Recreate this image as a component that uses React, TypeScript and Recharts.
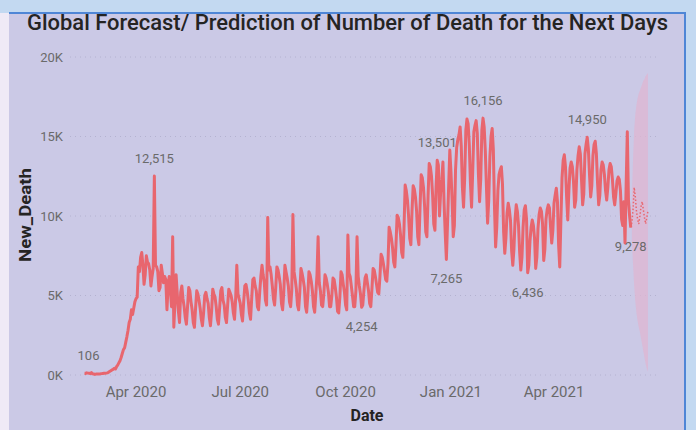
import React from "react";
import { ComposedChart, Line, Area, XAxis, YAxis, CartesianGrid } from "recharts";

// ---------------------------------------------------------------------------
// Data (daily, day 0 = 16 Feb 2020)
// ---------------------------------------------------------------------------

const startDate = Date.UTC(2020, 1, 16);

const feb2020 = [106, 98, 136, 118, 109, 97, 150, 71, 64, 38, 57, 64, 58, 67];
const mar2020 = [
  73, 86, 98, 109, 104, 120, 135, 175, 230, 270, 320, 350, 420, 380, 520, 620,
  760, 900, 1100, 1350, 1600, 1700, 2050, 2400, 2800, 3300, 3500, 4100, 3800,
  4200, 4600,
];
const apr2020 = [
  4800, 4900, 6800, 6500, 7400, 7700, 6900, 5700, 6300, 7500, 7100, 7000, 6600,
  5600, 6200, 6700, 12515, 6900, 6800, 6500, 5300, 5500, 6900, 6400, 5800, 6200,
  6000, 4100, 5600, 6200,
];
const may2020 = [
  5300, 4300, 8700, 3000, 4600, 6300, 5100, 4000, 3300, 5200, 5600, 4800, 4300,
  3600, 3200, 4300, 5500, 5300, 4600, 4100, 3300, 3000, 4200, 5300, 5100, 4700,
  4200, 3500, 3100, 3900, 5000,
];
const jun2020 = [
  5200, 4800, 4500, 3600, 3100, 4000, 5400, 5100, 4900, 4300, 3500, 3200, 4200,
  5300, 5500, 4700, 4400, 3600, 3300, 4400, 5400, 5200, 5000, 4600, 3900, 3500,
  4800, 6900, 5100, 4800,
];
const jul2020 = [
  4500, 3800, 3400, 4600, 5600, 5700, 5300, 4700, 3900, 3500, 4800, 6000, 6100,
  5600, 5300, 4300, 4100, 5200, 6200, 6900, 6300, 5800, 4700, 4400, 9900, 6600,
  6800, 6300, 5600, 4800, 4400,
];
const aug2020 = [
  5500, 6800, 6600, 6200, 5700, 4500, 4100, 5200, 6900, 6500, 6100, 5600, 4600,
  4300, 5300, 10100, 6500, 6000, 5400, 4400, 4100, 5200, 6700, 6400, 6000, 5500,
  4300, 3950, 5000, 6500, 6300,
];
const sep2020 = [
  5900, 5300, 4300, 3950, 5100, 6300, 8700, 5800, 5300, 4400, 4300, 5100, 6300,
  6100, 5700, 5200, 4300, 4300, 5000, 6100, 6000, 5500, 4900, 4000, 3900, 4900,
  6500, 6300, 5700, 5200,
];
const oct2020 = [
  4400, 4100, 8800, 6400, 6200, 5600, 5000, 4300, 4300, 5300, 8700, 6200, 5600,
  5100, 4254, 4400, 5300, 6100, 6300, 5800, 5300, 4500, 4300, 5400, 6700, 6600,
  6200, 5700, 5200, 5100, 6200,
];
const nov2020 = [
  7600, 7400, 7000, 6500, 6000, 5900, 7000, 9300, 9000, 8600, 8000, 7100, 6800,
  8200, 10050, 9900, 9500, 8800, 7700, 7400, 9200, 11950, 11600, 11000, 10000,
  8600, 8200, 10300, 11900, 11700,
];
const dec2020 = [
  11200, 10300, 8700, 8200, 10500, 12600, 12400, 11800, 10600, 9000, 8700,
  11200, 13300, 13100, 12500, 11300, 9500, 9100, 11800, 13501, 13200, 10000,
  11500, 12300, 13400, 10800, 8900, 7265, 9500, 11900, 14150,
];
const jan2021 = [
  12800, 11000, 8700, 9400, 12900, 14300, 14800, 15100, 15600, 14400, 11800,
  10550, 12400, 15400, 16100, 15800, 14500, 12100, 10550, 12800, 15300, 15700,
  16000, 15200, 12600, 10900, 12300, 15400, 16156, 15600, 14100,
];
const feb2021 = [
  11800, 9550, 11000, 13700, 15000, 15500, 14200, 10600, 8050, 9300, 11600,
  12600, 12900, 13100, 12000, 9000, 7650, 8600, 10200, 10800, 10400, 9700, 7800,
  6900, 7900, 9800, 10700, 10300,
];
const mar2021 = [
  9400, 7700, 6600, 7400, 9300, 10400, 10650, 9800, 6436, 6900, 8400, 9300,
  9750, 9400, 8600, 6700, 7400, 9200, 10100, 10500, 10300, 9500, 7200, 7900,
  9800, 10400, 10700, 10500, 9300, 8300, 9100,
];
const apr2021 = [
  10800, 11300, 11750, 10900, 8200, 6800, 9700, 12400, 13500, 13850, 13100,
  11200, 9750, 11600, 13000, 13400, 13100, 12200, 10550, 11000, 12900, 13800,
  14350, 13900, 12300, 10700, 11400, 13900, 14500, 14950,
];
const may2021 = [
  14200, 12600, 11200, 11900, 13800, 14500, 14700, 13900, 12100, 10700, 11300,
  12900, 13400, 13200, 12600, 11600, 11000, 11800, 12900, 13300, 13100, 12300,
  11200, 10700, 11400, 12200, 12450, 12300, 11600, 9800, 9400,
];
const jun2021 = [10900, 8300, 12000, 15300, 11000, 10000, 9278];

// forecast for the next 15 days
const forecastMid = [
  9600, 10400, 11800, 11200, 10300, 9800, 9500, 10000, 10600, 10900, 10400,
  9900, 9500, 9900, 10300,
];
const forecastLow = [
  8400, 7000, 5600, 4600, 3900, 3400, 3000, 2700, 2300, 1900, 1500, 1100, 700,
  400, 200,
];
const forecastHigh = [
  11200, 13500, 15400, 16400, 17000, 17400, 17700, 17900, 18100, 18300, 18500,
  18600, 18800, 18900, 19000,
];

const tickDates = [
  Date.UTC(2020, 3, 1),
  Date.UTC(2020, 6, 1),
  Date.UTC(2020, 9, 1),
  Date.UTC(2021, 0, 1),
  Date.UTC(2021, 3, 1),
];
const tickLabels = ["Apr 2020", "Jul 2020", "Oct 2020", "Jan 2021", "Apr 2021"];
const yTicks = [0, 5000, 10000, 15000, 20000];

// ---------------------------------------------------------------------------
// Build rows
// ---------------------------------------------------------------------------

interface Row {
  day: number;
  deaths?: number;
  forecast?: number;
  band?: [number, number];
}

const actual = [
  ...feb2020, ...mar2020, ...apr2020, ...may2020, ...jun2020, ...jul2020,
  ...aug2020, ...sep2020, ...oct2020, ...nov2020, ...dec2020, ...jan2021,
  ...feb2021, ...mar2021, ...apr2021, ...may2021, ...jun2021,
];

const rows: Row[] = actual.map((v, i) => ({ day: i, deaths: v }));
rows[rows.length - 1].forecast = actual[actual.length - 1];
forecastMid.forEach((v, i) => {
  rows.push({
    day: actual.length + i,
    forecast: v,
    band: [forecastLow[i], forecastHigh[i]],
  });
});

const tickDays = tickDates.map((t) => Math.round((t - startDate) / 86400000));
const tickText: Record<number, string> = {};
tickDays.forEach((d, i) => (tickText[d] = tickLabels[i]));

// which points get a data label, and on which side
const labelSide: Record<number, "above" | "below"> = {
  0: "above",
  61: "above",
  242: "below",
  308: "above",
  316: "below",
  348: "above",
  387: "below",
  439: "above",
  477: "below",
};

const FONT = "Roboto, 'Open Sans', sans-serif";
const LINE = "#e8666e";

function PointLabel(props: Record<string, unknown>) {
  const cx = props.cx as number | undefined;
  const cy = props.cy as number | undefined;
  const payload = props.payload as Row | undefined;
  const idx = props.index as number;
  if (cx === undefined || cy === undefined || !payload) return <g key={`l-${idx}`} />;
  const side = labelSide[payload.day];
  if (!side || payload.deaths === undefined) return <g key={`l-${idx}`} />;
  const dx = payload.day === 0 ? 4 : 0;
  return (
    <text
      key={`l-${idx}`}
      x={cx + dx}
      y={side === "above" ? cy - 13 : cy + 24}
      textAnchor="middle"
      fill="#6a6a6a"
      fontSize={13}
      fontFamily={FONT}
    >
      {payload.deaths.toLocaleString("en-US")}
    </text>
  );
}

export default function App() {
  return (
    <div
      style={{
        position: "fixed",
        left: 0,
        top: 0,
        width: 696,
        height: 430,
        background: "#c3d9f1",
        overflow: "hidden",
      }}
    >
      <div style={{ position: "absolute", left: 0, top: 13, width: 9, height: 417, background: "#efeaf6" }} />
      <div style={{ position: "absolute", left: 9, top: 14, width: 675, height: 416, background: "#cbc9e6" }} />
      <div style={{ position: "absolute", left: 9, top: 12, width: 677, height: 2, background: "#4f86d6" }} />
      <div style={{ position: "absolute", left: 684, top: 12, width: 2, height: 418, background: "#4f86d6" }} />

      <svg width={696} height={430} style={{ position: "absolute", left: 0, top: 0 }}>
        <text
          x={27}
          y={30}
          textLength={641}
          lengthAdjust="spacingAndGlyphs"
          fontSize={22}
          fontWeight={500}
          fill="#252423"
          fontFamily={FONT}
        >
          Global Forecast/ Prediction of Number of Death for the Next Days
        </text>
        <text
          transform="translate(31,215) rotate(-90)"
          textAnchor="middle"
          textLength={94}
          lengthAdjust="spacingAndGlyphs"
          fontSize={17}
          fontWeight={700}
          fill="#252423"
          fontFamily={FONT}
        >
          New_Death
        </text>
        <text
          x={367}
          y={421}
          textAnchor="middle"
          fontSize={16}
          fontWeight={700}
          fill="#252423"
          fontFamily={FONT}
        >
          Date
        </text>
      </svg>

      <div style={{ position: "absolute", left: 0, top: 0 }}>
        <ComposedChart
          width={696}
          height={430}
          data={rows}
          margin={{ top: 57, right: 38, bottom: 25, left: 10 }}
        >
          <CartesianGrid
            vertical={false}
            stroke="#b4b2d0"
            strokeDasharray="1 4"
            strokeWidth={1}
          />
          <XAxis
            type="number"
            dataKey="day"
            domain={[-12.66, 500.8]}
            allowDataOverflow
            ticks={tickDays}
            tickFormatter={(d: number) => tickText[d] ?? ""}
            axisLine={false}
            tickLine={false}
            tickMargin={5}
            height={30}
            tick={{ fill: "#6a6a6a", fontSize: 15, fontFamily: FONT }}
          />
          <YAxis
            domain={[0, 20000]}
            ticks={yTicks}
            tickFormatter={(v: number) => `${v / 1000}K`}
            axisLine={false}
            tickLine={false}
            tickMargin={1}
            width={60}
            tick={{ fill: "#6a6a6a", fontSize: 13, fontFamily: FONT }}
          />
          <Area
            dataKey="band"
            stroke="none"
            fill="#dfb5d2"
            fillOpacity={0.75}
            isAnimationActive={false}
            connectNulls={false}
          />
          <Line
            dataKey="deaths"
            stroke={LINE}
            strokeWidth={3}
            strokeLinejoin="round"
            dot={(p: Record<string, unknown>) => <PointLabel key={`l-${p.index}`} {...p} />}
            activeDot={false}
            isAnimationActive={false}
            connectNulls={false}
          />
          <Line
            dataKey="forecast"
            stroke={LINE}
            strokeWidth={1.5}
            strokeDasharray="1.5 2"
            dot={false}
            activeDot={false}
            isAnimationActive={false}
            connectNulls={false}
          />
        </ComposedChart>
      </div>
    </div>
  );
}
